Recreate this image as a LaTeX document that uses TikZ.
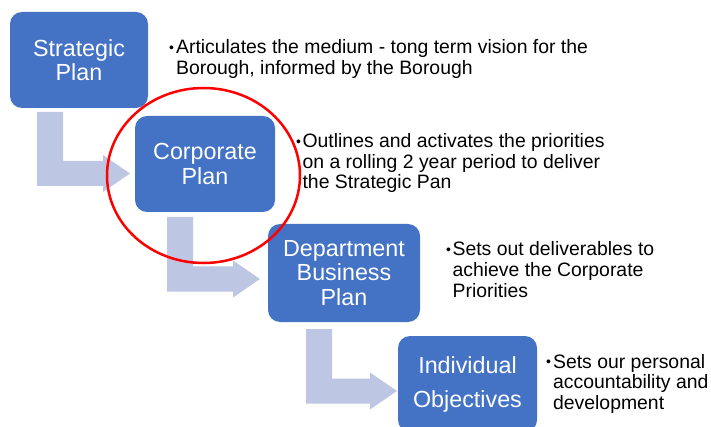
\documentclass[tikz,border=0pt]{standalone}
\usepackage{fontspec}
\setmainfont{Liberation Sans}
\usetikzlibrary{calc}
\definecolor{boxblue}{HTML}{4472C4}
\definecolor{arrowblue}{HTML}{BDC6E2}
\newcommand{\bentarrow}[2]{%
  \fill[arrowblue] let \p1=(#1), \p2=(#2) in
    (\x1,\y1) -- (\x1+26pt,\y1) -- (\x1+26pt,\y2+12.5pt) -- (\x2-27pt,\y2+12.5pt)
    -- (\x2-27pt,\y2+18.5pt) -- (\x2,\y2) -- (\x2-27pt,\y2-18.5pt)
    -- (\x2-27pt,\y2-12.5pt) -- (\x1,\y2-12.5pt) -- cycle;}
\newcommand{\dotmark}{\raisebox{1.2pt}{\fontsize{14}{14}\selectfont•}}

\begin{document}
\begin{tikzpicture}[x=1pt,y=-1pt,
    plan/.style={fill=boxblue,text=white,rounded corners=12pt,align=center,inner sep=0pt,
      font=\fontsize{23.3}{24.5}\selectfont},
    note/.style={anchor=base west,inner sep=0pt,font=\fontsize{19.4}{20.5}\selectfont}]
    \useasboundingbox (0,0) rectangle (711,427);
    \coordinate (s_1) at (37,112);
    \coordinate (e_1) at (130,173.5);
    \coordinate (s_2) at (167,217);
    \coordinate (e_2) at (260,279);
    \coordinate (s_3) at (306,329);
    \coordinate (e_3) at (397,391);
    \bentarrow{s_1}{e_1}
    \bentarrow{s_2}{e_2}
    \bentarrow{s_3}{e_3}
    \node[plan,minimum width=138pt,minimum height=96pt] (p_1) at (79,60) {Strategic\\Plan};
    \node[plan,minimum width=140pt,minimum height=96pt] (p_2) at (205,164) {Corporate\\Plan};
    \node[plan,minimum width=152pt,minimum height=98pt] (p_3) at (344,273) {Department\\Business\\Plan};
    \node[plan,minimum width=139pt,minimum height=96pt,font=\fontsize{23.3}{34}\selectfont] (p_4) at (467.5,384) {Individual\\Objectives};
    \node[note] (d_1) at (169,54) {\begin{tabular}[t]{@{}l@{\hspace{2pt}}l@{}}\dotmark&Articulates the medium - tong term vision for the\\&Borough, informed by the Borough\end{tabular}};
    \node[note] (d_2) at (296,148) {\begin{tabular}[t]{@{}l@{\hspace{1.5pt}}l@{}}\dotmark&Outlines and activates the priorities\\&on a rolling 2 year period to deliver\\&the Strategic Pan\end{tabular}};
    \node[note] (d_3) at (446,256) {\begin{tabular}[t]{@{}l@{\hspace{1.5pt}}l@{}}\dotmark&Sets out deliverables to\\&achieve the Corporate\\&Priorities\end{tabular}};
    \node[note] (d_4) at (546,368) {\begin{tabular}[t]{@{}l@{\hspace{2pt}}l@{}}\dotmark&Sets our personal\\&accountability and\\&development\end{tabular}};
    \draw[red,line width=2.5pt] (203.5,175.5) ellipse [x radius=96.5pt,y radius=87.5pt];
\end{tikzpicture}
\end{document}
